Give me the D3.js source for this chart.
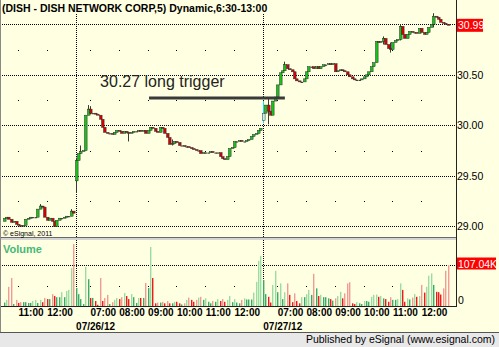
<!DOCTYPE html>
<html>
<head>
<meta charset="utf-8">
<script src="https://cdn.jsdelivr.net/npm/d3@7"></script>
<style>
  html, body { margin: 0; padding: 0; background: #fff; }
  svg { display: block; font-family: "Liberation Sans", Arial, sans-serif; }
</style>
</head>
<body>
<svg id="chart" width="499" height="347"></svg>
<script>
// 5 minute bars, 10:30 on 07/25 through 12:55 on 07/27 (index 0 .. 185)
const day1Close = [
  29.08, 29.09, 29.07, 29.04, 29.05, 29.02, 29.01, 29.00, 29.01, 29.07,
  29.08, 29.09, 29.09, 29.09, 29.17, 29.20, 29.19, 29.09, 29.06, 29.08,
  29.05, 29.00, 29.06, 29.08, 29.08, 29.09, 29.10, 29.10, 29.15, 29.13
];
const day2Close = [
  29.65, 29.72, 29.74, 29.75, 30.10, 30.16, 30.12, 30.12, 30.11, 30.10,
  30.06, 29.98, 29.93, 29.92, 29.92, 29.91, 29.93, 29.95, 29.94, 29.92,
  29.94, 29.93, 29.92, 29.93, 29.94, 29.94, 29.95, 29.94, 29.95, 29.92,
  29.95, 29.98, 29.97, 29.94, 29.93, 29.98, 29.97, 29.92, 29.88, 29.81,
  29.82, 29.84, 29.83, 29.80, 29.80, 29.79, 29.79, 29.78, 29.77, 29.76,
  29.75, 29.75, 29.72, 29.73, 29.73, 29.73, 29.74, 29.73, 29.73, 29.73,
  29.69, 29.67, 29.66, 29.69, 29.77, 29.78, 29.84, 29.84, 29.85, 29.84,
  29.84, 29.85, 29.86, 29.89, 29.91, 29.92, 29.95, 29.97
];
const day3Close = [
  30.12, 30.20, 30.14, 30.10, 30.24, 30.28, 30.40, 30.52, 30.54, 30.60,
  30.56, 30.55, 30.53, 30.46, 30.44, 30.43, 30.43, 30.46, 30.53, 30.58,
  30.58, 30.56, 30.58, 30.56, 30.58, 30.60, 30.60, 30.61, 30.60, 30.61,
  30.53, 30.54, 30.55, 30.54, 30.53, 30.50, 30.48, 30.46, 30.45, 30.45,
  30.45, 30.46, 30.48, 30.50, 30.53, 30.58, 30.62, 30.83, 30.82, 30.83,
  30.86, 30.80, 30.76, 30.75, 30.82, 30.84, 30.85, 30.98, 30.90, 30.86,
  30.90, 30.93, 30.92, 30.92, 30.91, 30.96, 30.92, 30.90, 30.92, 30.97,
  31.00, 31.08, 31.07, 31.05, 31.02, 31.01, 31.00, 30.99
];

// gap opens [index, open]; every other bar opens at the previous close
const gapOpens = [[0, 29.05], [30, 29.45], [108, 30.05]];

// wicks that reach past the body [index, high, low]
const wicks = [
  [15, 29.22, 29.17], [28, 29.17, 29.10], [30, 29.68, 29.33], [32, 29.80, 29.72],
  [35, 30.20, 30.10], [36, 30.19, 30.11], [52, 29.93, 29.84], [70, 29.86, 29.80],
  [108, 30.24, 30.02], [110, 30.28, 30.01], [117, 30.63, 30.54], [158, 30.88, 30.80],
  [161, 30.82, 30.72], [165, 31.00, 30.84], [179, 31.11, 30.97]
];

// volume, thousands of shares
const volumes = [
  9, 16, 50, 73, 5, 16, 8, 10, 10, 10, 8, 8, 13, 16, 8, 16, 10, 21, 18, 18,
  31, 26, 23, 23, 36, 23, 39, 42, 99, 162, 47, 31, 18, 5, 102, 70, 21, 21, 13, 3,
  73, 13, 21, 29, 5, 10, 16, 21, 18, 23, 34, 26, 18, 31, 23, 8, 21, 21, 21, 60,
  47, 154, 73, 7, 9, 9, 11, 7, 13, 7, 7, 11, 11, 7, 4, 7, 16, 22, 16, 11,
  16, 22, 24, 16, 20, 11, 7, 13, 11, 18, 13, 18, 11, 16, 26, 10, 18, 9, 7, 16,
  20, 17, 17, 17, 35, 63, 118, 131, 68, 31, 24, 9, 55, 92, 36, 59, 18, 36, 59, 29,
  10, 33, 13, 7, 23, 23, 31, 42, 29, 84, 46, 26, 29, 23, 23, 20, 18, 14, 20, 26,
  37, 20, 33, 59, 62, 7, 5, 10, 7, 5, 13, 13, 11, 24, 29, 30, 24, 26, 20, 18,
  11, 23, 16, 16, 18, 59, 42, 11, 20, 17, 22, 31, 24, 26, 55, 35, 50, 79, 85, 55,
  37, 36, 30, 46, 92, 107.04
];

const hourTicks = [6, 18, 36, 48, 60, 72, 84, 96, 114, 126, 138, 150, 162, 174];
const hourLabels = ["11:00", "12:00", "07:00", "08:00", "09:00", "10:00", "11:00", "12:00",
  "07:00", "08:00", "09:00", "10:00", "11:00", "12:00"];
const sessionStarts = [30, 108];
const sessionLabels = ["07/26/12", "07/27/12"];
const priceGrid = [29, 29.5, 30, 30.5, 31];
const priceLabels = [29, 29.5, 30, 30.5];
const priceQuarters = [29.25, 29.75, 30.25, 30.75];

const lastPrice = 30.99;
const lastVolume = 107.04;
const triggerPrice = 30.27;
const triggerSpan = [60.6, 117.2];
const triggerText = "30.27 long trigger";
const triggerTextAt = [40.2, 30.375];
const signalBar = 108;

const title = "(DISH - DISH NETWORK CORP,5) Dynamic,6:30-13:00";

// ---------------------------------------------------------------------------
const W = 499, H = 347;
const plotRight = 456;
const bg = "#ffffe1";

const closes = day1Close.concat(day2Close, day3Close);
const gapMap = new Map(gapOpens);
const wickMap = new Map(wicks.map(w => [w[0], w.slice(1)]));

const bars = closes.map((c, i) => {
  const o = gapMap.has(i) ? gapMap.get(i) : closes[i - 1];
  const w = wickMap.get(i);
  return {
    i, o, c,
    h: w ? w[0] : Math.max(o, c),
    l: w ? w[1] : Math.min(o, c),
    v: volumes[i],
    up: i === 0 ? c >= o : c >= closes[i - 1]
  };
});

const x = d3.scaleLinear().domain([-1.5, 188.5]).range([0, plotRight]);
const yP = d3.scaleLinear().domain([29, 31]).range([226.3, 24.3]);
const yV = d3.scaleLinear().domain([0, lastVolume]).range([306, 265]);

const svg = d3.select("#chart");

svg.append("rect").attr("width", W).attr("height", H).attr("fill", bg);

// price pane grid
const grid = svg.append("g");
grid.selectAll("line.h")
  .data(priceGrid)
  .enter().append("line")
  .attr("x1", 2).attr("x2", plotRight)
  .attr("y1", d => Math.round(yP(d)) + 0.5)
  .attr("y2", d => Math.round(yP(d)) + 0.5)
  .attr("stroke", "#000")
  .attr("stroke-dasharray", "1,1");

const dots = [];
hourTicks.forEach(t => priceQuarters.forEach(p => dots.push([x(t), yP(p)])));
hourTicks.forEach(t => dots.push([x(t), yV(lastVolume / 2)]));
grid.selectAll("rect.dot")
  .data(dots)
  .enter().append("rect")
  .attr("x", d => Math.round(d[0]))
  .attr("y", d => Math.round(d[1]))
  .attr("width", 1).attr("height", 1)
  .attr("fill", "#000");

// volume reference line
grid.append("line")
  .attr("x1", 2).attr("x2", plotRight)
  .attr("y1", Math.round(yV(lastVolume)) + 0.5)
  .attr("y2", Math.round(yV(lastVolume)) + 0.5)
  .attr("stroke", "#000")
  .attr("stroke-dasharray", "1,1");

// session separators
grid.selectAll("line.sess")
  .data(sessionStarts)
  .enter().append("line")
  .attr("x1", d => Math.round(x(d)) + 0.5)
  .attr("x2", d => Math.round(x(d)) + 0.5)
  .attr("y1", 14).attr("y2", 306)
  .attr("stroke", "#000")
  .attr("stroke-dasharray", "1,1");

// pane frames
svg.append("rect")
  .attr("x", 0).attr("y", 237).attr("width", plotRight + 1).attr("height", 3)
  .attr("fill", "#d4d4d4");
svg.append("line")
  .attr("x1", 0).attr("x2", plotRight + 1).attr("y1", 237.5).attr("y2", 237.5)
  .attr("stroke", "#6a6a6a");
svg.append("line")
  .attr("x1", 0).attr("x2", plotRight + 1).attr("y1", 306.5).attr("y2", 306.5)
  .attr("stroke", "#222");
svg.append("line")
  .attr("x1", plotRight + 0.5).attr("x2", plotRight + 0.5).attr("y1", 0).attr("y2", 307)
  .attr("stroke", "#222");
svg.append("line")
  .attr("x1", 0.5).attr("x2", 0.5).attr("y1", 0).attr("y2", 332)
  .attr("stroke", "#8a8a8a");

// volume bars
const volColor = d => {
  const rising = d.i > 0 && d.v > volumes[d.i - 1];
  if (d.up) return rising ? "#9bdca4" : "#3aaa6a";
  return rising ? "#f49a94" : "#f01818";
};
svg.append("g").selectAll("rect")
  .data(bars)
  .enter().append("rect")
  .attr("x", d => Math.round(x(d.i)))
  .attr("width", 1.4)
  .attr("y", d => yV(d.v))
  .attr("height", d => yV(0) - yV(d.v))
  .attr("fill", volColor);

// candles
const candles = svg.append("g");
candles.selectAll("line")
  .data(bars.filter(d => d.h > Math.max(d.o, d.c) || d.l < Math.min(d.o, d.c)))
  .enter().append("line")
  .attr("x1", d => Math.round(x(d.i)) + 0.5)
  .attr("x2", d => Math.round(x(d.i)) + 0.5)
  .attr("y1", d => yP(d.h))
  .attr("y2", d => yP(d.l))
  .attr("stroke", d => d.i === signalBar ? "#16e0ee" : "#3a3a3a");

candles.selectAll("rect")
  .data(bars)
  .enter().append("rect")
  .attr("x", d => Math.round(x(d.i)) - 0.5)
  .attr("width", 2.6)
  .attr("y", d => yP(Math.max(d.o, d.c)))
  .attr("height", d => Math.max(1, Math.abs(yP(d.o) - yP(d.c))))
  .attr("fill", d => {
    if (d.i === signalBar) return "#bff4f4";
    if (Math.abs(d.c - d.o) < 0.005) return "#222";
    return d.c > d.o ? "#19c219" : "#d50000";
  })
  .attr("stroke", d => Math.abs(d.c - d.o) < 0.005 ? "none" : "#2a2a2a")
  .attr("stroke-width", 0.5);

// trigger annotation
svg.append("line")
  .attr("x1", x(triggerSpan[0])).attr("x2", x(triggerSpan[1]))
  .attr("y1", yP(triggerPrice)).attr("y2", yP(triggerPrice))
  .attr("stroke", "#3a3a3a")
  .attr("stroke-width", 3);
svg.append("text")
  .attr("x", x(triggerTextAt[0]))
  .attr("y", yP(triggerTextAt[1]))
  .attr("font-size", 16)
  .attr("fill", "#222")
  .text(triggerText);

// price axis
const pAxis = svg.append("g")
  .attr("transform", `translate(${plotRight},0)`)
  .call(d3.axisRight(yP).tickValues(priceLabels).tickFormat(d3.format(".2f")).tickSize(0).tickPadding(1));
pAxis.select(".domain").remove();
pAxis.selectAll("text").attr("font-size", 10.5).attr("font-family", "Liberation Sans, Arial").attr("fill", "#000");

const lastBox = svg.append("g").attr("transform", `translate(${plotRight + 1},${yP(lastPrice)})`);
lastBox.append("rect").attr("x", 0).attr("y", -6.5).attr("width", 26).attr("height", 13).attr("fill", "#f00");
lastBox.append("text").attr("x", 1).attr("y", 4).attr("font-size", 10.5).attr("fill", "#fff").text(d3.format(".2f")(lastPrice));

// volume axis
const vAxis = svg.append("g")
  .attr("transform", `translate(${plotRight},0)`)
  .call(d3.axisRight(yV).tickValues([0]).tickSize(0).tickPadding(2));
vAxis.select(".domain").remove();
vAxis.selectAll("text").attr("font-size", 10.5).attr("font-family", "Liberation Sans, Arial").attr("fill", "#000").attr("dy", "-0.25em");

const volBox = svg.append("g").attr("transform", `translate(${plotRight + 1},${yV(lastVolume) - 1.5})`);
volBox.append("rect").attr("x", 0).attr("y", -6).attr("width", 39).attr("height", 12).attr("fill", "#f00");
volBox.append("text").attr("x", 1).attr("y", 4).attr("font-size", 10.5).attr("fill", "#fff").text(d3.format(".2f")(lastVolume) + "K");

// time axis
const tAxis = svg.append("g")
  .attr("transform", "translate(0,306)")
  .call(d3.axisBottom(x).tickValues(hourTicks).tickFormat((d, i) => hourLabels[i]).tickSize(0).tickPadding(0));
tAxis.select(".domain").remove();
tAxis.selectAll("text")
  .attr("text-anchor", "start")
  .attr("font-size", 10)
  .attr("font-weight", "bold")
  .attr("font-family", "Liberation Sans, Arial")
  .attr("fill", "#000")
  .attr("y", 10).attr("dy", 0);

const dAxis = svg.append("g")
  .attr("transform", "translate(0,306)")
  .call(d3.axisBottom(x).tickValues(sessionStarts).tickFormat((d, i) => sessionLabels[i]).tickSize(0));
dAxis.select(".domain").remove();
dAxis.selectAll("text")
  .attr("text-anchor", "start")
  .attr("font-size", 10)
  .attr("font-weight", "bold")
  .attr("font-family", "Liberation Sans, Arial")
  .attr("fill", "#000")
  .attr("y", 24).attr("dy", 0);

// labels
svg.append("text")
  .attr("x", 2).attr("y", 12)
  .attr("font-size", 10.5).attr("font-weight", "bold").attr("fill", "#000")
  .text(title);
svg.append("text")
  .attr("x", 3).attr("y", 236)
  .attr("font-size", 7).attr("fill", "#000")
  .text("\u00a9 eSignal, 2011");
svg.append("text")
  .attr("x", 3).attr("y", 253)
  .attr("font-size", 11).attr("font-weight", "bold").attr("fill", "#46b878")
  .text("Volume");

// footer
svg.append("rect").attr("x", 0).attr("y", 332).attr("width", W).attr("height", H - 332).attr("fill", "#e8e8e8");
svg.append("line").attr("x1", 0).attr("x2", W).attr("y1", 332.5).attr("y2", 332.5).attr("stroke", "#555");
svg.append("text")
  .attr("x", 495).attr("y", 343)
  .attr("text-anchor", "end")
  .attr("font-size", 10.5).attr("fill", "#000")
  .text("Published by eSignal (www.esignal.com)");
</script>
</body>
</html>
